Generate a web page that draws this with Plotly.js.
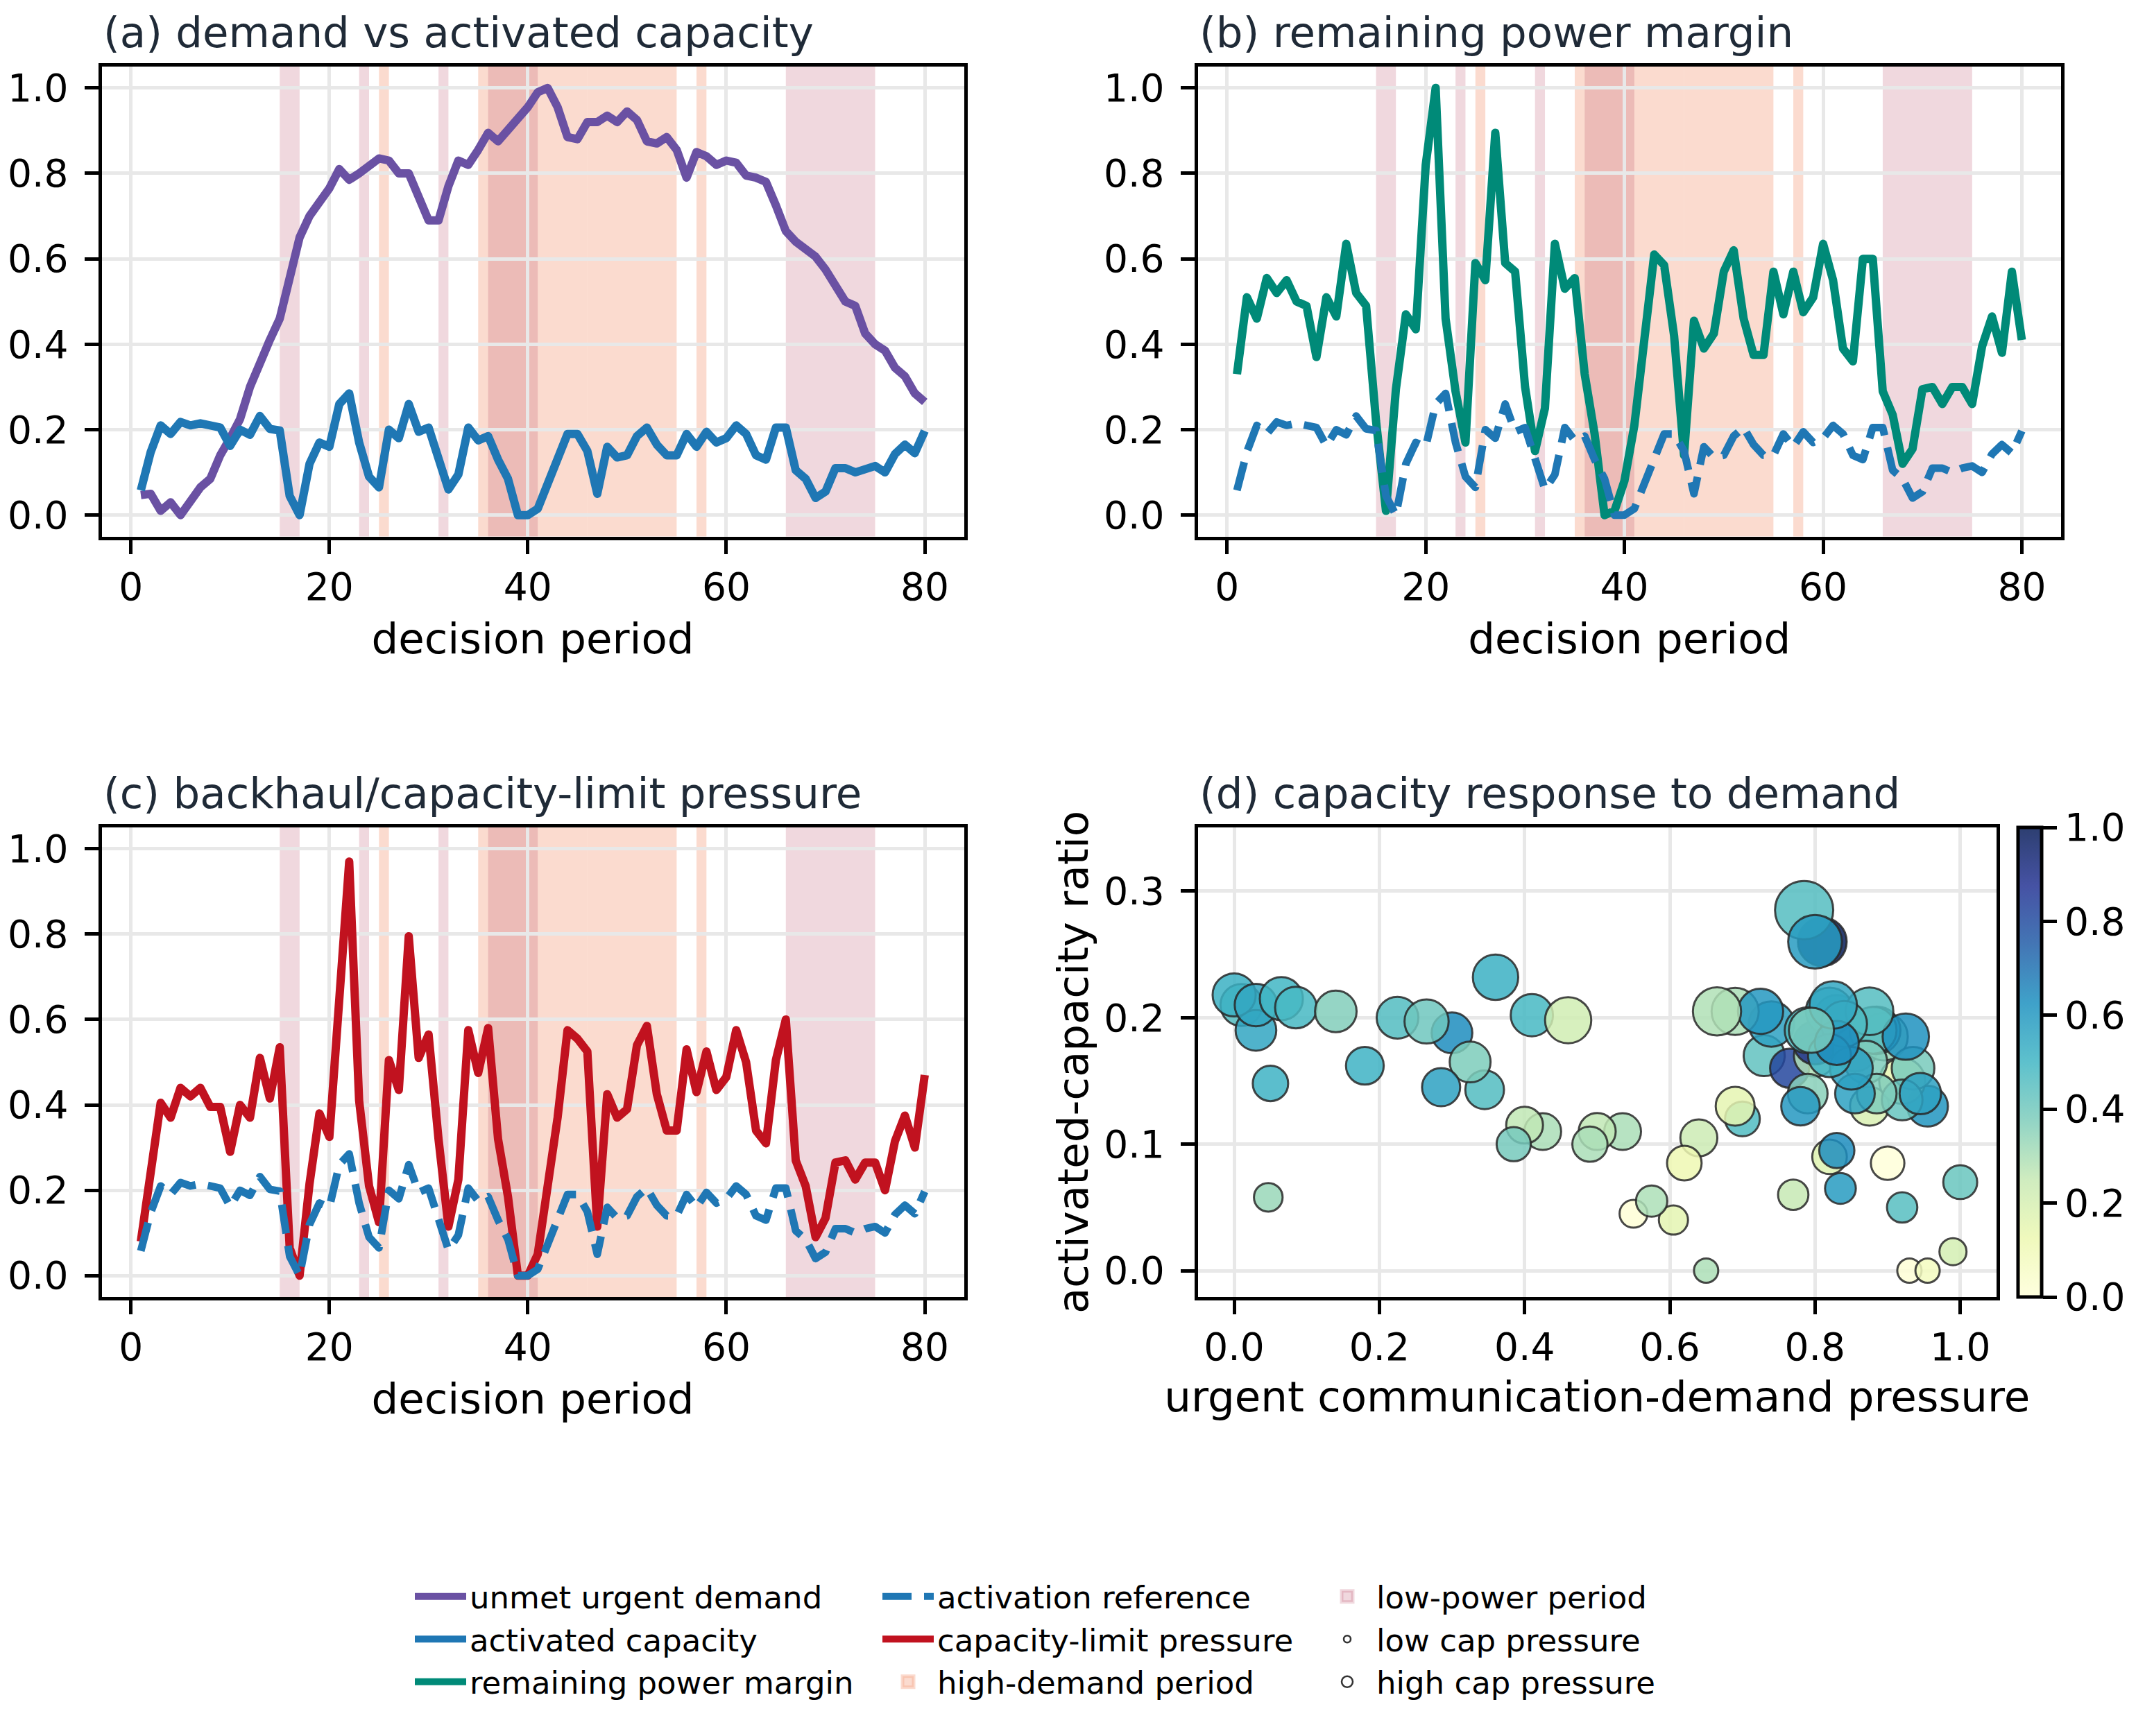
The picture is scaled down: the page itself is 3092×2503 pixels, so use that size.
<!DOCTYPE html>
<html>
<head>
<meta charset="utf-8">
<script src="https://cdn.plot.ly/plotly-3.0.1.min.js"></script>
<style>
    html, body { margin: 0; padding: 0; background: #ffffff; }
    #chart_area { width: 3092px; height: 2503px; }
    .js-line { stroke-linejoin: round; }
</style>
</head>
<body>
<div id="chart_area"></div>
<script>
// decision periods and the four series
var periods = [1, 2, 3, 4, 5, 6, 7, 8, 9, 10, 11, 12, 13, 14, 15, 16, 17, 18, 19, 20,
    21, 22, 23, 24, 25, 26, 27, 28, 29, 30, 31, 32, 33, 34, 35, 36, 37, 38, 39, 40,
    41, 42, 43, 44, 45, 46, 47, 48, 49, 50, 51, 52, 53, 54, 55, 56, 57, 58, 59, 60,
    61, 62, 63, 64, 65, 66, 67, 68, 69, 70, 71, 72, 73, 74, 75, 76, 77, 78, 79, 80];

var unmetDemand = [0.047, 0.05, 0.01, 0.03, 0.0, 0.03, 0.065, 0.085, 0.14, 0.18,
    0.225, 0.30, 0.36, 0.41, 0.46, 0.55, 0.65, 0.70, 0.73, 0.765,
    0.81, 0.785, 0.80, 0.82, 0.835, 0.83, 0.80, 0.80, 0.74, 0.69,
    0.69, 0.77, 0.83, 0.82, 0.855, 0.895, 0.875, 0.90, 0.93, 0.955,
    0.99, 1.0, 0.955, 0.885, 0.88, 0.92, 0.92, 0.935, 0.92, 0.945,
    0.925, 0.875, 0.87, 0.885, 0.855, 0.79, 0.85, 0.84, 0.82, 0.83,
    0.825, 0.795, 0.79, 0.78, 0.725, 0.665, 0.64, 0.62, 0.605, 0.575,
    0.535, 0.50, 0.49, 0.425, 0.40, 0.385, 0.345, 0.325, 0.285, 0.265];

var activatedCapacity = [0.058, 0.148, 0.21, 0.19, 0.218, 0.21, 0.215, 0.208, 0.205, 0.162,
    0.20, 0.188, 0.232, 0.202, 0.198, 0.045, 0.0, 0.12, 0.17, 0.16,
    0.26, 0.285, 0.17, 0.09, 0.065, 0.20, 0.18, 0.26, 0.195, 0.205,
    0.13, 0.06, 0.095, 0.205, 0.175, 0.185, 0.13, 0.085, 0.0, 0.0,
    0.015, 0.07, 0.13, 0.19, 0.19, 0.15, 0.05, 0.16, 0.135, 0.14,
    0.185, 0.205, 0.165, 0.14, 0.14, 0.19, 0.16, 0.195, 0.17, 0.18,
    0.21, 0.19, 0.14, 0.13, 0.205, 0.205, 0.105, 0.085, 0.04, 0.055,
    0.11, 0.11, 0.10, 0.11, 0.115, 0.10, 0.143, 0.165, 0.145, 0.197];

var powerMargin = [0.33, 0.51, 0.46, 0.555, 0.52, 0.55, 0.50, 0.49, 0.37, 0.51,
    0.465, 0.635, 0.52, 0.49, 0.22, 0.01, 0.295, 0.47, 0.435, 0.82,
    1.0, 0.46, 0.29, 0.17, 0.59, 0.55, 0.895, 0.59, 0.57, 0.30,
    0.15, 0.25, 0.635, 0.53, 0.555, 0.33, 0.19, 0.0, 0.01, 0.08,
    0.21, 0.42, 0.61, 0.585, 0.42, 0.14, 0.455, 0.39, 0.425, 0.57,
    0.62, 0.46, 0.375, 0.375, 0.57, 0.47, 0.57, 0.475, 0.51, 0.635,
    0.55, 0.39, 0.36, 0.60, 0.60, 0.29, 0.235, 0.12, 0.155, 0.295,
    0.30, 0.26, 0.30, 0.30, 0.26, 0.395, 0.465, 0.38, 0.57, 0.41];

var capPressure = [0.08, 0.23, 0.405, 0.37, 0.44, 0.42, 0.44, 0.395, 0.395, 0.29,
    0.40, 0.37, 0.51, 0.415, 0.535, 0.065, 0.0, 0.215, 0.38, 0.325,
    0.62, 0.97, 0.41, 0.21, 0.125, 0.505, 0.435, 0.795, 0.51, 0.565,
    0.32, 0.115, 0.225, 0.575, 0.475, 0.58, 0.32, 0.185, 0.0, 0.0,
    0.05, 0.195, 0.37, 0.575, 0.555, 0.525, 0.115, 0.425, 0.37, 0.39,
    0.54, 0.585, 0.425, 0.34, 0.34, 0.53, 0.43, 0.525, 0.435, 0.465,
    0.575, 0.50, 0.34, 0.31, 0.505, 0.60, 0.27, 0.21, 0.09, 0.135,
    0.265, 0.27, 0.225, 0.265, 0.265, 0.20, 0.315, 0.375, 0.30, 0.47];

// shaded periods (start / end)
var lowPowerStart = [15, 23, 31, 36, 66];
var lowPowerEnd = [17, 24, 32, 41, 75];
var highDemandStart = [25, 35, 46, 57];
var highDemandEnd = [26, 46, 55, 58];

// tick labels
var periodTicks = [0, 20, 40, 60, 80];
var unitTicks = [0, 0.2, 0.4, 0.6, 0.8, 1.0];
var ratioTicks = [0, 0.1, 0.2, 0.3];

var W = 3092, H = 2503;
var FONT = 'DejaVu Sans, Liberation Sans, sans-serif';
var TITLE_COLOR = '#1f2a37';
var LOW_POWER = 'rgba(180,60,90,0.2)';
var HIGH_DEMAND = 'rgba(245,160,130,0.38)';

function px(x) { return x / W; }
function py(y) { return 1 - y / H; }

// matplotlib YlGnBu with the scatter alpha baked in
var alpha = 0.85;
var ylgnbu = ['#ffffd9', '#edf8b1', '#c7e9b4', '#7fcdbb', '#41b6c4', '#1d91c0', '#225ea8', '#253494', '#081d58'];
var colorscale = ylgnbu.map(function (c, i) {
    var r = parseInt(c.substr(1, 2), 16), g = parseInt(c.substr(3, 2), 16), b = parseInt(c.substr(5, 2), 16);
    return [i / (ylgnbu.length - 1), 'rgba(' + r + ',' + g + ',' + b + ',' + alpha + ')'];
});

// bubble area grows with capacity-limit pressure
var bubbleSize = capPressure.map(function (p) { return Math.sqrt(1225 + 6000 * p); });

function baseAxis(domain, anchor) {
    return {
        domain: domain,
        anchor: anchor,
        showline: true,
        mirror: true,
        linecolor: '#000000',
        linewidth: 5,
        ticks: 'outside',
        ticklen: 20,
        tickwidth: 5,
        tickcolor: '#000000',
        tickfont: { family: FONT, size: 55, color: '#000000' },
        showgrid: true,
        gridcolor: '#e8e8e8',
        gridwidth: 5,
        zeroline: false,
        automargin: false
    };
}

function periodAxis(domain, anchor) {
    var ax = baseAxis(domain, anchor);
    ax.range = [-2.95, 83.95];
    ax.tickmode = 'array';
    ax.tickvals = periodTicks;
    ax.title = { text: 'decision period', font: { family: FONT, size: 61, color: '#000000' }, standoff: 24 };
    return ax;
}

function unitAxis(domain, anchor) {
    var ax = baseAxis(domain, anchor);
    ax.range = [-0.05, 1.05];
    ax.tickmode = 'array';
    ax.tickvals = unitTicks;
    ax.tickformat = '.1f';
    ax.ticklabelstandoff = 12;
    return ax;
}

var rowTop = [py(773.5), py(96)];
var rowBottom = [py(1870), py(1193)];
var colLeft = [px(146.5), px(1389.5)];
var colRight = [px(1726.5), px(2971)];

var data = [
    {
        x: periods, y: unmetDemand, xaxis: 'x', yaxis: 'y',
        type: 'scatter', mode: 'lines', name: 'unmet urgent demand',
        line: { color: '#6a51a3', width: 12 },
        legend: 'legend', hoverinfo: 'none'
    },
    {
        x: periods, y: activatedCapacity, xaxis: 'x', yaxis: 'y',
        type: 'scatter', mode: 'lines', name: 'activated capacity',
        line: { color: '#1f77b4', width: 12 },
        legend: 'legend', hoverinfo: 'none'
    },
    {
        x: periods, y: powerMargin, xaxis: 'x2', yaxis: 'y2',
        type: 'scatter', mode: 'lines', name: 'remaining power margin',
        line: { color: '#008a78', width: 12 },
        legend: 'legend', hoverinfo: 'none'
    },
    {
        x: periods, y: activatedCapacity, xaxis: 'x2', yaxis: 'y2',
        type: 'scatter', mode: 'lines', name: 'activation reference',
        line: { color: '#1f77b4', width: 11, dash: '42px,18px' },
        legend: 'legend2', hoverinfo: 'none'
    },
    {
        x: periods, y: capPressure, xaxis: 'x3', yaxis: 'y3',
        type: 'scatter', mode: 'lines', name: 'capacity-limit pressure',
        line: { color: '#c1121f', width: 12 },
        legend: 'legend2', hoverinfo: 'none'
    },
    {
        x: periods, y: activatedCapacity, xaxis: 'x3', yaxis: 'y3',
        type: 'scatter', mode: 'lines', name: 'activation reference',
        line: { color: '#1f77b4', width: 11, dash: '42px,18px' },
        showlegend: false, hoverinfo: 'none'
    },
    {
        x: unmetDemand, y: activatedCapacity, xaxis: 'x4', yaxis: 'y4',
        type: 'scatter', mode: 'markers', name: 'periods',
        marker: {
            size: bubbleSize,
            sizemode: 'diameter',
            opacity: 1,
            color: powerMargin,
            cmin: 0, cmax: 1,
            colorscale: colorscale,
            line: { color: 'rgba(40,40,40,0.85)', width: 3 },
            colorbar: {
                x: px(2909), xanchor: 'left', xref: 'paper', xpad: 0,
                y: py(1870), yanchor: 'bottom', ypad: 0,
                len: (1870 - 1193) / H, lenmode: 'fraction',
                thickness: 34, thicknessmode: 'pixels',
                outlinewidth: 5, outlinecolor: '#000000',
                ticks: 'outside', ticklen: 20, tickwidth: 5, tickcolor: '#000000',
                tickmode: 'array', tickvals: unitTicks, tickformat: '.1f',
                tickfont: { family: FONT, size: 55, color: '#000000' }
            }
        },
        showlegend: false, hoverinfo: 'none'
    },
    // legend keys only (no data)
    {
        x: [null], y: [null], xaxis: 'x', yaxis: 'y',
        type: 'scatter', mode: 'markers', name: 'high-demand period',
        marker: { symbol: 'square', size: 16, color: HIGH_DEMAND, line: { color: HIGH_DEMAND, width: 5 } },
        legend: 'legend2', hoverinfo: 'none'
    },
    {
        x: [null], y: [null], xaxis: 'x', yaxis: 'y',
        type: 'scatter', mode: 'markers', name: 'low-power period',
        marker: { symbol: 'square', size: 16, color: LOW_POWER, line: { color: LOW_POWER, width: 5 } },
        legend: 'legend3', hoverinfo: 'none'
    },
    {
        x: [null], y: [null], xaxis: 'x4', yaxis: 'y4',
        type: 'scatter', mode: 'markers', name: 'low cap pressure',
        marker: { size: 10, color: '#ffffff', line: { color: '#333333', width: 2.5 } },
        legend: 'legend3', hoverinfo: 'none'
    },
    {
        x: [null], y: [null], xaxis: 'x4', yaxis: 'y4',
        type: 'scatter', mode: 'markers', name: 'high cap pressure',
        marker: { size: 16, color: '#ffffff', line: { color: '#333333', width: 2.5 } },
        legend: 'legend3', hoverinfo: 'none'
    }
];

// shaded periods on panels a, b, c
var shapes = [];
['', '2', '3'].forEach(function (k) {
    highDemandStart.forEach(function (s, i) {
        shapes.push({
            type: 'rect', xref: 'x' + k, yref: 'y' + k + ' domain',
            x0: s, x1: highDemandEnd[i], y0: 0, y1: 1,
            fillcolor: HIGH_DEMAND, line: { width: 0 }, layer: 'below'
        });
    });
    lowPowerStart.forEach(function (s, i) {
        shapes.push({
            type: 'rect', xref: 'x' + k, yref: 'y' + k + ' domain',
            x0: s, x1: lowPowerEnd[i], y0: 0, y1: 1,
            fillcolor: LOW_POWER, line: { width: 0 }, layer: 'below'
        });
    });
});

function panelTitle(k, text) {
    return {
        xref: 'x' + k + ' domain', yref: 'y' + k + ' domain', x: 0, y: 1,
        xanchor: 'left', yanchor: 'bottom', yshift: 12,
        text: text, showarrow: false,
        font: { family: FONT, size: 61, color: TITLE_COLOR }
    };
}

function legendAt(x, y) {
    return {
        x: x, y: y,
        orientation: 'v', xanchor: 'left', yanchor: 'top',
        bgcolor: 'rgba(0,0,0,0)', borderwidth: 0,
        itemwidth: 74, tracegroupgap: 0,
        font: { family: FONT, size: 45, color: '#000000' }
    };
}

var scatterX = baseAxis([px(1726.7), px(2878)], 'y4');
scatterX.range = [-0.05, 1.05];
scatterX.tickmode = 'array';
scatterX.tickvals = unitTicks;
scatterX.tickformat = '.1f';
scatterX.title = { text: 'urgent communication-demand pressure', font: { family: FONT, size: 61, color: '#000000' }, standoff: 21 };

var scatterY = baseAxis(rowBottom, 'x4');
scatterY.range = [-0.0208, 0.3504];
scatterY.tickmode = 'array';
scatterY.tickvals = ratioTicks;
scatterY.tickformat = '.1f';
scatterY.ticklabelstandoff = 12;
scatterY.title = { text: 'activated-capacity ratio', font: { family: FONT, size: 61, color: '#000000' }, standoff: 4 };

var layout = {
    width: W,
    height: H,
    margin: { l: 0, r: 0, t: 0, b: 0 },
    paper_bgcolor: '#ffffff',
    plot_bgcolor: 'rgba(0,0,0,0)',
    font: { family: FONT, size: 55, color: '#000000' },
    xaxis: periodAxis(colLeft, 'y'),
    yaxis: unitAxis(rowTop, 'x'),
    xaxis2: periodAxis(colRight, 'y2'),
    yaxis2: unitAxis(rowTop, 'x2'),
    xaxis3: periodAxis(colLeft, 'y3'),
    yaxis3: unitAxis(rowBottom, 'x3'),
    xaxis4: scatterX,
    yaxis4: scatterY,
    shapes: shapes,
    annotations: [
        panelTitle('', '(a) demand vs activated capacity'),
        panelTitle('2', '(b) remaining power margin'),
        panelTitle('3', '(c) backhaul/capacity-limit pressure'),
        panelTitle('4', '(d) capacity response to demand')
    ],
    legend: legendAt(px(593), py(2266)),
    legend2: legendAt(px(1267), py(2266)),
    legend3: legendAt(px(1900), py(2266)),
    showlegend: true
};

var config = {
    displayModeBar: false,
    staticPlot: true,
    responsive: false
};

Plotly.newPlot('chart_area', data, layout, config);
</script>
</body>
</html>
